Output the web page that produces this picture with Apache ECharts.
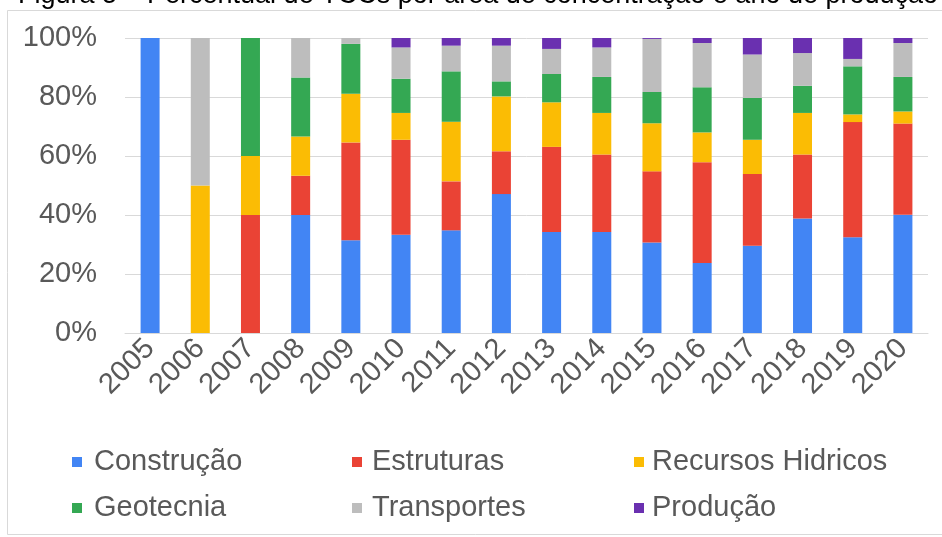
<!DOCTYPE html>
<html>
<head>
<meta charset="utf-8">
<script src="https://cdn.jsdelivr.net/npm/echarts@6/dist/echarts.min.js"></script>
<style>
  html, body { margin: 0; padding: 0; background: #fff; }
  #chart { width: 942px; height: 537px; }
</style>
</head>
<body>
<div id="chart"></div>
<script>
// Years of production (x axis)
const years = ['2005','2006','2007','2008','2009','2010','2011','2012','2013','2014','2015','2016','2017','2018','2019','2020'];

// Share of TCCs per concentration area, in percent of each year's total
const construcao = [100, 0, 0, 40.0, 31.4, 33.3, 34.8, 47.1, 34.2, 34.2, 30.7, 23.7, 29.6, 38.8, 32.5, 40.1];
const estruturas = [0, 0, 40.0, 13.3, 33.2, 32.2, 16.6, 14.5, 28.9, 26.3, 24.1, 34.2, 24.3, 21.7, 39.0, 30.9];
const recursosHidricos = [0, 50.0, 20.0, 13.3, 16.5, 9.1, 20.2, 18.6, 15.1, 14.1, 16.3, 10.1, 11.6, 14.1, 2.6, 4.1];
const geotecnia = [0, 0, 40.0, 20.0, 16.9, 11.6, 17.1, 5.1, 9.6, 12.2, 10.6, 15.3, 14.2, 9.2, 16.3, 11.7];
const transportes = [0, 50.0, 0, 13.4, 2.0, 10.6, 8.7, 12.1, 8.5, 10.0, 18.0, 15.0, 14.7, 11.1, 2.5, 11.5];
const producao = [0, 0, 0, 0, 0, 3.2, 2.6, 2.6, 3.7, 3.2, 0.3, 1.7, 5.6, 5.1, 7.1, 1.7];

// Y axis ticks
const yMin = 0, yMax = 100, yStep = 20;

const titleText = 'Figura 5 – Percentual de TCCs por área de concentração e ano de produção';

const FONT = '"Liberation Sans", Arial, sans-serif';
const TEXT_COLOR = '#595959';
const LABEL_SIZE = 29;

const seriesDefs = [
  { name: 'Construção', data: construcao, color: '#4285F4' },
  { name: 'Estruturas', data: estruturas, color: '#EA4335' },
  { name: 'Recursos Hidricos', data: recursosHidricos, color: '#FBBC04' },
  { name: 'Geotecnia', data: geotecnia, color: '#34A853' },
  { name: 'Transportes', data: transportes, color: '#BDBDBD' },
  { name: 'Produção', data: producao, color: '#6A30B0' }
];

function legendColumn(left, names, gap) {
  return {
    orient: 'vertical',
    left: left,
    top: 446,
    padding: 0,
    itemWidth: 10,
    itemHeight: 10,
    itemGap: 14,
    icon: 'rect',
    selectedMode: false,
    data: names,
    textStyle: {
      fontFamily: FONT,
      fontSize: LABEL_SIZE,
      lineHeight: 32,
      color: TEXT_COLOR,
      padding: [0, 0, 0, gap]
    }
  };
}

const chart = echarts.init(document.getElementById('chart'), null, { renderer: 'canvas' });

chart.setOption({
  animation: false,
  backgroundColor: '#ffffff',
  graphic: [
    {
      type: 'rect',
      shape: { x: 7.5, y: 10.5, width: 960, height: 524 },
      style: { fill: 'none', stroke: '#d9d9d9', lineWidth: 1 },
      z: 0
    },
    {
      type: 'text',
      x: 478,
      y: -4,
      style: {
        text: titleText,
        font: '27px ' + FONT,
        fill: '#000000',
        textAlign: 'center',
        textVerticalAlign: 'middle'
      },
      z: 10
    }
  ],
  grid: { left: 125, right: 14, top: 38, bottom: 204, containLabel: false },
  legend: [
    legendColumn(72, ['Construção', 'Geotecnia'], 7),
    legendColumn(352, ['Estruturas', 'Transportes'], 5),
    legendColumn(634, ['Recursos Hidricos', 'Produção'], 3)
  ],
  xAxis: {
    type: 'category',
    data: years,
    boundaryGap: true,
    axisTick: { show: false },
    axisLine: { show: true, lineStyle: { color: '#d9d9d9', width: 1 } },
    axisLabel: {
      rotate: 45,
      margin: 11,
      interval: 0,
      fontFamily: FONT,
      fontSize: LABEL_SIZE,
      color: TEXT_COLOR
    }
  },
  yAxis: {
    type: 'value',
    min: yMin,
    max: yMax,
    interval: yStep,
    axisLine: { show: false },
    axisTick: { show: false },
    splitLine: { lineStyle: { color: '#d9d9d9', width: 1 } },
    axisLabel: {
      formatter: '{value}%',
      margin: 28,
      fontFamily: FONT,
      fontSize: LABEL_SIZE,
      color: TEXT_COLOR
    }
  },
  series: seriesDefs.map(s => ({
    name: s.name,
    type: 'bar',
    stack: 'total',
    barWidth: 19,
    data: s.data,
    itemStyle: { color: s.color },
    emphasis: { disabled: true }
  }))
});
</script>
</body>
</html>
